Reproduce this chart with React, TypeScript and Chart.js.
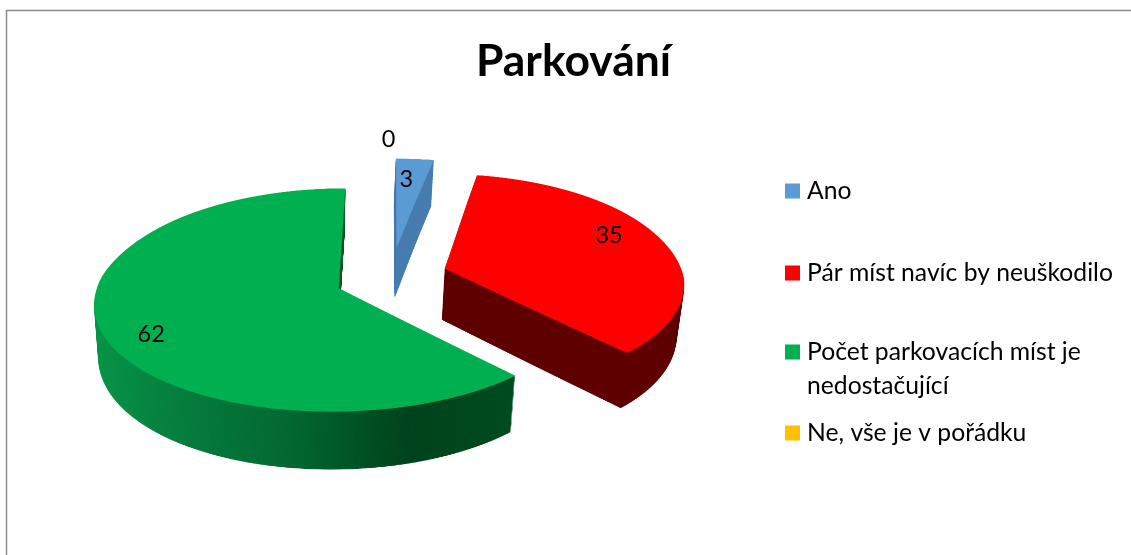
import React, { useEffect, useRef } from "react";
import { Chart, registerables } from "chart.js";

Chart.register(...registerables);

const chartTitle = "Parkování";
const categories = ["Ano", "Pár míst navíc by neuškodilo", "Počet parkovacích míst je nedostačující", "Ne, vše je v pořádku"];
const legendLines = [["Ano"], ["Pár míst navíc by neuškodilo"], ["Počet parkovacích míst je", "nedostačující"], ["Ne, vše je v pořádku"]];
const values = [3, 35, 62, 0];
const topColors = ["#5B9BD5", "#FF0000", "#00B050", "#FFC000"];
const sideColors = ["#4A7EB0", "#600000", "green-gradient", "#997300"];
const labelAngleOffsetDeg = [-1.55, -6.8, -7, -0.7];
const labelRadiusFraction = [0.731, 0.8, 0.829, 1.27];
const legendRowY = [191, 273, 352, 433];

const W = 1131;
const H = 555;
const RADIUS = 239;
const CX = 391.5;
const CY = 277;
const TILT = 0.4577;
const PERSPECTIVE_Y = 0.0004;
const PERSPECTIVE_NEAR_X = 0.0005;
const PERSPECTIVE_FAR_X = 0.0006;
const FAR_Y = 230;
const FAR_CURVE = 0.001;
const EXPLODE_U = 56;
const EXPLODE_V = 66;
const SIDE_SHRINK = 0.02;
const SIDE_SHRINK_CX = 300;
const SIDE_STRETCH = 0.047;
const SIDE_DROP = 38.5;
const FLAT_W = 1000;
const FLAT_H = 800;
const FX = 500;
const FY = 400;
const F = 2;
const SS = 2;
const FONT = "Lato, Carlito, sans-serif";
const LEGEND_FONT_SIZE = 24.7;
const LABEL_FONT_SIZE = 23.5;

function makeCanvas(w: number, h: number) {
  const c = document.createElement("canvas");
  c.width = w;
  c.height = h;
  return c;
}

function xScale(v: number) {
  return 1 / (1 - (v < 0 ? PERSPECTIVE_FAR_X : PERSPECTIVE_NEAR_X) * v);
}

function project(u: number, v: number) {
  const raw = CY + (TILT * v) / (1 - PERSPECTIVE_Y * v);
  const d = FAR_Y - raw;
  const y = d > 0 ? raw + FAR_CURVE * d * d : raw;
  return { x: CX + u * xScale(v), y };
}

function warp(src: HTMLCanvasElement) {
  const dst = makeCanvas(W * SS, H * SS);
  const ctx = dst.getContext("2d")!;
  const inv = (screenY: number) => {
    const dp = FAR_Y - screenY;
    const disc = 1 - 4 * FAR_CURVE * dp;
    if (dp > 0 && disc < 0) return -Infinity;
    const y = dp > 0 ? FAR_Y - (1 - Math.sqrt(disc)) / (2 * FAR_CURVE) : screenY;
    const w = (y - CY) / TILT;
    return w / (1 + PERSPECTIVE_Y * w);
  };
  for (let row = 0; row < H * SS; row++) {
    const v0 = inv(row / SS);
    const v1 = inv((row + 1) / SS);
    if (!isFinite(v0) || FY + v0 < 0 || FY + v1 > FLAT_H) continue;
    const s = xScale((v0 + v1) / 2);
    ctx.drawImage(src, 0, (FY + v0) * F, FLAT_W * F, (v1 - v0) * F, (CX - FX * s) * SS, row, FLAT_W * s * SS, 1);
  }
  return dst;
}

function drawFlat(meta: any, colorFor: (i: number, c: CanvasRenderingContext2D, originX: number) => any) {
  const flat = makeCanvas(FLAT_W * F, FLAT_H * F);
  const c = flat.getContext("2d")!;
  c.scale(F, F);
  meta.data.forEach((arc: any, i: number) => {
    const mid = (arc.startAngle + arc.endAngle) / 2;
    const tx = FX - arc.x + EXPLODE_U * Math.cos(mid);
    const saved = arc.options;
    const col = colorFor(i, c, tx);
    arc.options = { backgroundColor: col, borderColor: col, borderWidth: 0, offset: 0, spacing: 0, circular: true, borderAlign: "center" };
    c.save();
    c.translate(tx, FY - arc.y + EXPLODE_V * Math.sin(mid));
    arc.draw(c);
    c.restore();
    arc.options = saved;
  });
  return flat;
}

const framePlugin = {
  id: "frame",
  beforeDraw(chart: any) {
    const ctx = chart.ctx;
    ctx.save();
    ctx.fillStyle = "#ffffff";
    ctx.fillRect(0, 0, W, H);
    ctx.strokeStyle = "#8c8c8c";
    ctx.lineWidth = 1.5;
    ctx.beginPath();
    ctx.moveTo(W, 10.5);
    ctx.lineTo(6.5, 10.5);
    ctx.lineTo(6.5, H);
    ctx.stroke();
    ctx.restore();
  },
};

const tiltedPiePlugin = {
  id: "tiltedPie",
  beforeDatasetsDraw(chart: any) {
    const ctx = chart.ctx as CanvasRenderingContext2D;
    const meta = chart.getDatasetMeta(0);

    const sideFlat = drawFlat(meta, (i, c, tx) => {
      if (sideColors[i] !== "green-gradient") return sideColors[i];
      const toGradient = (screenX: number) => FX + (screenX - CX) - tx;
      const g = c.createLinearGradient(toGradient(95), 0, toGradient(510), 0);
      g.addColorStop(0, "#0A9A4B");
      g.addColorStop(0.25, "#077F3F");
      g.addColorStop(0.49, "#046A33");
      g.addColorStop(0.75, "#00441D");
      g.addColorStop(1, "#004D22");
      return g;
    });
    const topFlat = drawFlat(meta, (i) => topColors[i]);
    const sideWarped = warp(sideFlat);
    const topWarped = warp(topFlat);

    const layers = 60;
    for (let k = layers; k >= 1; k--) {
      const t = k / layers;
      ctx.save();
      ctx.transform(1 - SIDE_SHRINK * t, 0, 0, 1 + SIDE_STRETCH * t, SIDE_SHRINK_CX * SIDE_SHRINK * t, SIDE_DROP * t);
      ctx.drawImage(sideWarped, 0, 0, W, H);
      ctx.restore();
    }
    ctx.drawImage(topWarped, 0, 0, W, H);

    ctx.save();
    ctx.fillStyle = "#000000";
    ctx.textAlign = "center";
    ctx.textBaseline = "middle";
    ctx.font = `${LABEL_FONT_SIZE}px ${FONT}`;
    meta.data.forEach((arc: any, i: number) => {
      const mid = (arc.startAngle + arc.endAngle) / 2;
      const a = mid + (labelAngleOffsetDeg[i] * Math.PI) / 180;
      const r = arc.outerRadius * labelRadiusFraction[i];
      const p = project(EXPLODE_U * Math.cos(mid) + r * Math.cos(a), EXPLODE_V * Math.sin(mid) + r * Math.sin(a));
      ctx.fillText(String(values[i]), p.x, p.y);
    });
    ctx.restore();

    ctx.save();
    ctx.textAlign = "left";
    ctx.textBaseline = "middle";
    ctx.font = `${LEGEND_FONT_SIZE}px ${FONT}`;
    legendLines.forEach((lines, i) => {
      ctx.fillStyle = topColors[i];
      ctx.fillRect(785, legendRowY[i] - 7.5, 15, 15);
      ctx.fillStyle = "#000000";
      lines.forEach((line, j) => ctx.fillText(line, 807, legendRowY[i] + j * 34));
    });
    ctx.restore();
    return false;
  },
};

export default function App() {
  const ref = useRef<HTMLCanvasElement>(null);
  useEffect(() => {
    document.body.style.margin = "0";
    const chart = new Chart(ref.current!, {
      type: "pie",
      data: {
        labels: categories,
        datasets: [{ data: values, backgroundColor: topColors, borderWidth: 0, radius: RADIUS } as any],
      },
      options: {
        responsive: false,
        animation: false,
        events: [],
        layout: { padding: { left: 16 } },
        plugins: {
          legend: { display: false },
          tooltip: { enabled: false },
          title: {
            display: true,
            text: chartTitle,
            color: "#000000",
            font: { family: FONT, size: 44.4, weight: "bold" },
            padding: { top: 35, bottom: 10 },
          },
        },
      },
      plugins: [framePlugin, tiltedPiePlugin],
    } as any);
    return () => chart.destroy();
  }, []);
  return <canvas ref={ref} width={W} height={H} style={{ display: "block" }} />;
}
